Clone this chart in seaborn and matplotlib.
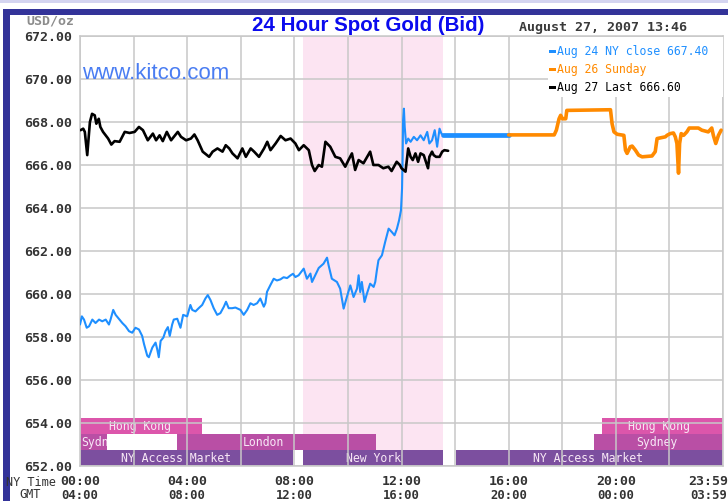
import numpy as np
import pandas as pd
import matplotlib
matplotlib.use("Agg")
import matplotlib.pyplot as plt
import seaborn as sns
from matplotlib.patches import Rectangle

# prices (NY time in hours, USD/oz)
aug27_hours = [0.02, 0.12, 0.18, 0.27, 0.37, 0.45, 0.55, 0.61, 0.70, 0.76, 0.86, 1.05, 1.17, 1.29,
               1.48, 1.67, 1.85, 2.04, 2.20, 2.35, 2.53, 2.72, 2.84, 2.97, 3.09, 3.24, 3.40, 3.65,
               3.77, 3.96, 4.14, 4.27, 4.39, 4.58, 4.82, 4.95, 5.13, 5.32, 5.44, 5.57, 5.69, 5.88,
               6.06, 6.19, 6.37, 6.50, 6.68, 6.87, 6.99, 7.11, 7.30, 7.49, 7.67, 7.86, 8.04, 8.17,
               8.35, 8.54, 8.66, 8.76, 8.91, 9.03, 9.16, 9.34, 9.53, 9.71, 9.90, 10.02, 10.15, 10.27,
               10.40, 10.58, 10.83, 10.95, 11.14, 11.32, 11.51, 11.63, 11.82, 11.94, 12.00, 12.15,
               12.25, 12.34, 12.42, 12.52, 12.62, 12.71, 12.83, 12.89, 12.99, 13.04, 13.14, 13.20,
               13.29, 13.42, 13.52, 13.60, 13.74]
aug27_price = [667.62, 667.69, 667.54, 666.46, 668.00, 668.38, 668.31, 667.92, 668.15, 667.77, 667.54,
               667.23, 666.95, 667.11, 667.08, 667.54, 667.49, 667.54, 667.77, 667.62, 667.15, 667.46,
               667.15, 667.38, 667.11, 667.54, 667.15, 667.54, 667.31, 667.15, 667.23, 667.42, 667.15,
               666.62, 666.38, 666.62, 666.77, 666.62, 666.92, 666.77, 666.54, 666.31, 666.77, 666.38,
               666.77, 666.62, 666.38, 666.77, 667.08, 666.69, 667.00, 667.35, 667.15, 667.23, 667.00,
               666.69, 666.92, 666.69, 666.00, 665.72, 666.00, 665.92, 667.08, 666.85, 666.38, 666.31,
               665.92, 666.23, 666.54, 665.77, 666.23, 666.08, 666.62, 666.00, 666.00, 665.85, 665.92,
               665.72, 666.15, 666.00, 665.85, 665.69, 666.77, 666.38, 666.23, 666.54, 666.15, 666.54,
               666.46, 666.23, 665.85, 666.38, 666.62, 666.46, 666.38, 666.38, 666.62, 666.69, 666.66]

aug24_hours = [0.00, 0.07, 0.15, 0.25, 0.34, 0.46, 0.58, 0.71, 0.83, 0.96, 1.08, 1.14, 1.24, 1.33,
               1.45, 1.58, 1.70, 1.83, 1.95, 2.07, 2.20, 2.32, 2.39, 2.51, 2.57, 2.70, 2.82, 2.88,
               2.94, 3.01, 3.11, 3.19, 3.28, 3.35, 3.44, 3.50, 3.63, 3.75, 3.85, 4.00, 4.12, 4.19,
               4.31, 4.43, 4.56, 4.68, 4.77, 4.87, 4.99, 5.12, 5.24, 5.37, 5.45, 5.55, 5.68, 5.80,
               5.99, 6.11, 6.24, 6.36, 6.48, 6.61, 6.73, 6.86, 6.92, 6.98, 7.10, 7.23, 7.35, 7.48,
               7.60, 7.73, 7.85, 7.95, 8.04, 8.16, 8.35, 8.47, 8.60, 8.66, 8.78, 8.91, 9.09, 9.22,
               9.28, 9.40, 9.59, 9.71, 9.84, 9.96, 10.09, 10.21, 10.34, 10.40, 10.46, 10.52, 10.62,
               10.71, 10.83, 10.96, 11.02, 11.08, 11.14, 11.27, 11.39, 11.52, 11.64, 11.74, 11.83,
               11.91, 11.98, 12.02, 12.04, 12.06, 12.09, 12.12, 12.17, 12.25, 12.34, 12.46, 12.58,
               12.71, 12.83, 12.96, 13.04, 13.14, 13.24, 13.33, 13.42, 13.49, 13.54, 16.00]
aug24_price = [658.58, 658.96, 658.81, 658.43, 658.50, 658.81, 658.65, 658.81, 658.73, 658.81, 658.58,
               658.81, 659.26, 659.03, 658.85, 658.65, 658.50, 658.27, 658.20, 658.43, 658.35, 658.05,
               657.67, 657.13, 657.06, 657.51, 657.74, 657.44, 657.06, 657.82, 657.97, 658.27, 658.46,
               658.05, 658.58, 658.81, 658.85, 658.43, 659.03, 658.96, 659.49, 659.26, 659.19, 659.34,
               659.49, 659.79, 659.95, 659.72, 659.34, 659.03, 659.11, 659.41, 659.64, 659.34, 659.34,
               659.37, 659.26, 659.03, 659.26, 659.57, 659.49, 659.57, 659.79, 659.41, 659.57, 660.10,
               660.40, 660.71, 660.63, 660.68, 660.78, 660.74, 660.86, 660.94, 660.79, 660.87, 661.18,
               660.71, 660.95, 660.56, 660.87, 661.21, 661.41, 661.69, 661.33, 660.71, 660.56, 660.25,
               659.32, 659.86, 660.40, 659.86, 660.25, 660.87, 660.09, 660.56, 659.63, 660.02, 660.48,
               660.33, 660.56, 661.10, 661.57, 661.80, 662.42, 663.04, 662.88, 662.73, 663.04, 663.43,
               663.89, 664.90, 666.23, 668.08, 668.62, 667.77, 667.00, 667.23, 667.08, 667.31, 667.15,
               667.38, 667.15, 667.54, 667.00, 667.15, 667.62, 666.85, 667.69, 667.46, 667.40, 667.40]

aug26_hours = [16.00, 17.70, 17.78, 17.88, 17.94, 18.01, 18.13, 18.17, 19.80, 19.86, 19.93, 20.05,
               20.30, 20.36, 20.42, 20.54, 20.61, 20.73, 20.85, 20.98, 21.35, 21.47, 21.54, 21.85,
               21.91, 22.03, 22.15, 22.22, 22.28, 22.34, 22.38, 22.44, 22.53, 22.65, 22.74, 23.08,
               23.21, 23.45, 23.58, 23.64, 23.73, 23.83, 23.93]
aug26_price = [667.40, 667.40, 667.62, 668.15, 668.31, 668.15, 668.15, 668.54, 668.57, 667.92, 667.54,
               667.43, 667.38, 666.69, 666.54, 666.85, 666.88, 666.69, 666.46, 666.38, 666.42, 666.62,
               667.23, 667.31, 667.38, 667.46, 667.49, 667.31, 667.00, 665.62, 667.00, 667.46, 667.38,
               667.54, 667.72, 667.72, 667.62, 667.54, 667.72, 667.38, 667.00, 667.38, 667.62]

legend_labels = ["Aug 24 NY close 667.40", "Aug 26 Sunday", "Aug 27 Last 666.60"]
series_colors = ["#1e8fff", "#ff8a00", "#000000"]

# trading sessions along the bottom (row 0 = NY, 1 = Europe/Sydney, 2 = Hong Kong)
session_names = ["NY Access Market", "New York", "NY Access Market", "Sydney", "London",
                 "Sydney", "Hong Kong", "Hong Kong"]
session_row = [0, 0, 0, 1, 1, 1, 2, 2]
session_start = [0.0, 8.33, 14.03, 0.0, 3.62, 19.2, 0.0, 19.5]
session_end = [7.95, 13.55, 24.0, 1.0, 11.05, 24.0, 4.55, 24.0]
session_label_at = [3.6, 10.95, 18.95, 0.82, 6.83, 21.53, 2.24, 21.6]
row_colors = ["#7c4f9f", "#b94fa5", "#dc56ab"]
comex_open, comex_close = 8.33, 13.55

y_ticks = np.arange(652, 673, 2)
ny_ticks = ["00:00", "04:00", "08:00", "12:00", "16:00", "20:00", "23:59"]
gmt_ticks = ["04:00", "08:00", "12:00", "16:00", "20:00", "00:00", "03:59"]
tick_hours = [0, 4, 8, 12, 16, 20, 23.45]

W, H = 728, 501


def fx(px):
    return px / W


def fy(py):
    return 1 - py / H


sns.set_style("white")
plt.rcParams["font.family"] = ["DejaVu Sans Mono", "DejaVu Sans"]
mono = "DejaVu Sans Mono"

fig = plt.figure(figsize=(W / 100, H / 100), dpi=100)
fig.patch.set_facecolor("white")
ax = fig.add_axes([fx(80), fy(466), (723 - 80) / W, (466 - 36) / H])

# NY comex session shading
ax.axvspan(comex_open, comex_close, color="#fce4f2", zorder=0.2, lw=0)

# market session bars
row_h = 0.74
for name, row, s, e, lx in zip(session_names, session_row, session_start, session_end, session_label_at):
    ax.barh(652 + row * row_h + row_h / 2, e - s, left=s, height=row_h,
            color=row_colors[row], lw=0, zorder=0.3)
    ax.text(lx, 652 + row * row_h + row_h / 2, name, ha="center", va="center",
            fontsize=8.3, family=mono, color="#f8e8f6", zorder=0.45)
# blank patch over the early Sydney label, as on the original
ax.add_patch(Rectangle((1.0, 652 + row_h), 2.62, row_h, color="white", lw=0, zorder=0.6))

df_24 = pd.DataFrame({"hour": aug24_hours, "price": aug24_price})
df_26 = pd.DataFrame({"hour": aug26_hours, "price": aug26_price})
df_27 = pd.DataFrame({"hour": aug27_hours, "price": aug27_price})

sns.lineplot(data=df_24, x="hour", y="price", color=series_colors[0], lw=1.5,
             estimator=None, sort=False, ax=ax, zorder=3)
sns.lineplot(data=df_24.tail(2), x="hour", y="price", color=series_colors[0], lw=3.4,
             estimator=None, sort=False, ax=ax, zorder=3)
sns.lineplot(data=df_26, x="hour", y="price", color=series_colors[1], lw=2.6,
             estimator=None, sort=False, ax=ax, zorder=3)
sns.lineplot(data=df_27, x="hour", y="price", color=series_colors[2], lw=1.9,
             estimator=None, sort=False, ax=ax, zorder=4)

ax.set_xlim(0, 24)
ax.set_ylim(652, 672)
ax.set_xticks(np.arange(0, 25, 2))
ax.set_xticklabels([])
ax.set_yticks(y_ticks)
ax.set_yticklabels([f"{v:.2f}" for v in y_ticks], family=mono, fontsize=9.5,
                   fontweight="bold", color="#333333")
ax.tick_params(length=0, pad=6)
ax.set_xlabel("")
ax.set_ylabel("")
ax.set_axisbelow(True)
ax.grid(True, color="#c8c8c8", lw=1.1)
for sp in ax.spines.values():
    sp.set_color("#c8c8c8")
    sp.set_linewidth(1.1)

# time axis rows (NY and GMT)
xt = ax.get_xaxis_transform()
for h, ny, gmt in zip(tick_hours, ny_ticks, gmt_ticks):
    ax.text(h, -0.037, ny, transform=xt, ha="center", va="center", family=mono,
            fontsize=9.5, fontweight="bold", color="#333333", clip_on=False)
    ax.text(h, -0.068, gmt, transform=xt, ha="center", va="center", family=mono,
            fontsize=8.8, fontweight="bold", color="#333333", clip_on=False)
fig.text(fx(56), fy(483), "NY Time", ha="right", va="center", family=mono, fontsize=8.6, color="#333333")
fig.text(fx(30), fy(495), "GMT", ha="center", va="center", family=mono, fontsize=8.6, color="#333333")

# frame around the chart
fig.patches.append(Rectangle((0, fy(3)), 1, 3 / H, transform=fig.transFigure,
                             color="#d4d4f0", lw=0, zorder=1))
fig.patches.append(Rectangle((fx(3), fy(15)), 1, 6 / H, transform=fig.transFigure,
                             color="#333399", lw=0, zorder=1))
fig.patches.append(Rectangle((fx(3), 0), 7 / W, fy(9), transform=fig.transFigure,
                             color="#333399", lw=0, zorder=1))

# legend box
fig.patches.append(Rectangle((fx(548), fy(97)), (723 - 548) / W, 60 / H, transform=fig.transFigure,
                             color="white", lw=0, zorder=1))
for i, (lab, col) in enumerate(zip(legend_labels, series_colors)):
    yc = 51.5 + 18 * i
    fig.patches.append(Rectangle((fx(549), fy(yc + 1.7)), 7 / W, 3.4 / H, transform=fig.transFigure,
                                 color=col, lw=0, zorder=2))
    fig.text(fx(557), fy(yc), lab, ha="left", va="center", family=mono, fontsize=8.3, color=col)

fig.text(fx(368), fy(31), "24 Hour Spot Gold (Bid)", ha="center", va="baseline",
         family="Liberation Sans", fontweight="bold", fontsize=14.8, color="#0a0aee")
fig.text(fx(82), fy(79), "www.kitco.com", ha="left", va="baseline",
         family="Liberation Sans", fontsize=16, color="#4a7df2")
fig.text(fx(519), fy(31.5), "August 27, 2007 13:46", ha="left", va="baseline",
         family=mono, fontweight="bold", fontsize=9.6, color="#3a3a3a")
fig.text(fx(26), fy(24), "USD/oz", ha="left", va="baseline",
         family=mono, fontweight="bold", fontsize=9.5, color="#8c8c8c")

fig.savefig("out.png", dpi=100)
